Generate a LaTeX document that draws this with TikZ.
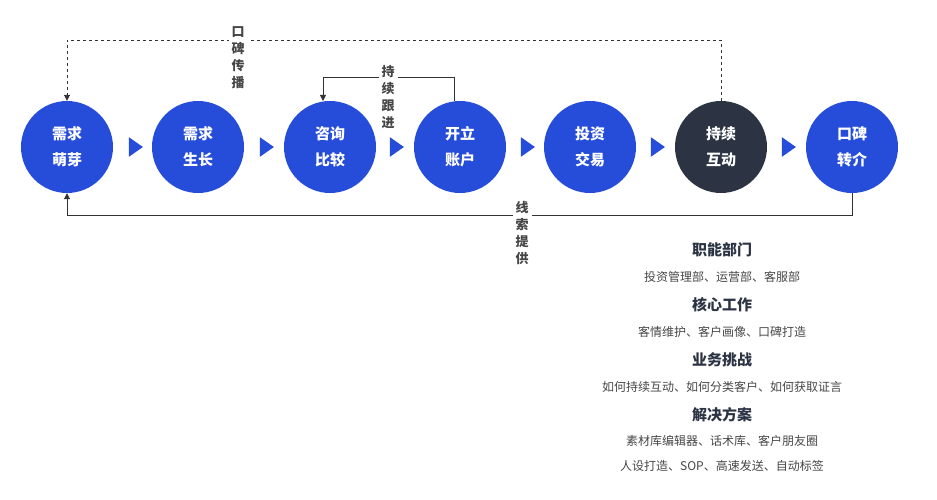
\documentclass[tikz,border=0pt]{standalone}
\usepackage{fontspec}
\newfontfamily\cjk{Noto Sans CJK SC}
\usetikzlibrary{shapes.geometric}
\usetikzlibrary{arrows.meta}
\definecolor{stageblue}{RGB}{38,77,218}
\definecolor{stagedark}{RGB}{44,52,68}
\definecolor{textgray}{RGB}{70,70,70}

\tikzset{
  stage/.style={circle,minimum size=92pt,inner sep=0pt,fill=stageblue,
    text=white,align=center,font=\cjk\bfseries\fontsize{15}{26}\selectfont},
  pointer/.style={isosceles triangle,isosceles triangle apex angle=70,
    fill=stageblue,minimum height=14pt,minimum width=18pt,inner sep=0pt},
  loopline/.style={line width=0.9pt,draw=black!80,-{Triangle[length=6pt,width=6pt]}},
  vlabel/.style={fill=white,align=center,text=textgray,
    font=\cjk\bfseries\fontsize{13}{17}\selectfont,inner sep=3pt},
  heading/.style={font=\cjk\bfseries\fontsize{15}{18}\selectfont,text=stagedark},
  detail/.style={font=\cjk\fontsize{12}{15}\selectfont,text=textgray}
}

\begin{document}
\begin{tikzpicture}[x=1pt,y=-1pt]
            \useasboundingbox (0,0) rectangle (937,500);

            % Stages
            \node[stage] (s1) at (67,147)  {需求\\萌芽};
            \node[stage] (s2) at (198,147) {需求\\生长};
            \node[stage] (s3) at (330,147) {咨询\\比较};
            \node[stage] (s4) at (460,147) {开立\\账户};
            \node[stage] (s5) at (590,147) {投资\\交易};
            \node[stage,fill=stagedark] (s6) at (721,147) {持续\\互动};
            \node[stage] (s7) at (852,147) {口碑\\转介};

            % Pointers between stages
            \foreach \x in {134,265,395,526,656,787}
                \node[pointer] at (\x,147) {};

            % Loops
            \coordinate (wordL) at (67,40);
            \coordinate (wordR) at (721,40);
            \draw[loopline,dashed] (s6.north) -- (wordR) -- (wordL) -- (s1.north);
            \node[vlabel] (word) at (238,58) {口\\碑\\传\\播};

            \coordinate (followL) at (323,77);
            \coordinate (followR) at (454,77);
            \draw[loopline] (454,101) -- (followR) -- (followL) -- (323,101);
            \node[vlabel] (follow) at (388,97) {持\\续\\跟\\进};

            \coordinate (leadR) at (852,215);
            \coordinate (leadL) at (67,215);
            \draw[loopline] (s7.south) -- (leadR) -- (leadL) -- (s1.south);
            \node[vlabel] (lead) at (522,233) {线\\索\\提\\供};

            % Details
            \node[heading] (h1) at (722,250) {职能部门};
            \node[detail]  (d1) at (722,277) {投资管理部、运营部、客服部};
            \node[heading] (h2) at (722,305) {核心工作};
            \node[detail]  (d2) at (722,332) {客情维护、客户画像、口碑打造};
            \node[heading] (h3) at (722,360) {业务挑战};
            \node[detail]  (d3) at (722,387) {如何持续互动、如何分类客户、如何获取证言};
            \node[heading] (h4) at (722,415) {解决方案};
            \node[detail]  (d4) at (722,441) {素材库编辑器、话术库、客户朋友圈};
            \node[detail]  (d5) at (722,466) {人设打造、SOP、高速发送、自动标签};
\end{tikzpicture}
\end{document}
